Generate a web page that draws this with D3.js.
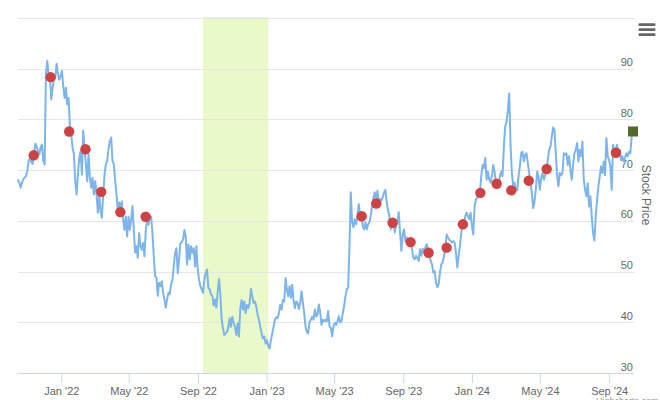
<!DOCTYPE html>
<html><head><meta charset="utf-8">
<script src="https://cdn.jsdelivr.net/npm/d3@7"></script>
<style>body{margin:0;background:#fff}svg{display:block;font-family:Arial,"Liberation Sans",sans-serif}</style>
</head><body><svg id="c" width="660" height="400"></svg>
<script>
// ---- data ----
const priceStart = "2021-10-16T00:00:00";
const priceStepHours = 56.8;
const priceValues = [
68.0,67.5,66.5,67.5,68.2,68.5,68.8,69.8,71.8,72.4,
71.6,71.2,73.1,75.2,74.5,73.7,73.1,74.4,75.0,71.8,
71.1,89.0,91.5,88.8,88.4,83.9,86.2,87.8,88.2,90.9,
89.0,87.8,88.5,89.5,86.5,84.2,86.2,82.9,84.2,78.5,
77.0,74.4,73.1,67.8,65.2,69.1,72.4,73.7,69.1,77.8,
74.3,71.1,67.8,73.1,68.5,66.5,68.5,65.2,67.8,65.2,
61.6,65.2,61.9,60.6,65.2,69.1,71.1,71.8,74.1,75.7,
76.4,71.8,71.1,67.8,65.2,61.9,63.6,
62.5,63.8,60.2,58.2,60.8,56.9,60.8,58.2,60.2,62.9,
58.2,53.7,55.0,52.7,57.6,55.0,54.3,55.6,53.0,58.2,
60.2,59.2,60.8,60.8,57.6,53.0,49.1,48.8,45.2,47.8,
47.1,48.1,45.8,44.5,42.9,44.5,45.8,45.5,47.5,48.4,
51.0,53.7,54.6,49.7,52.4,55.6,55.8,56.3,58.2,56.9,
51.4,55.3,52.4,55.0,53.7,54.6,51.0,55.0,50.4,48.4,
47.1,46.5,45.8,48.4,49.7,50.4,46.8,46.5,45.5,45.2,
43.3,44.5,42.9,
46.0,48.5,45.5,40.5,38.8,37.5,37.8,38.1,39.1,40.8,
39.1,41.1,39.8,39.1,37.5,39.8,37.2,42.8,44.4,42.5,
44.1,41.8,43.4,42.8,43.8,46.6,45.1,43.8,44.1,43.1,
41.5,40.5,39.1,37.8,36.8,37.2,35.8,36.5,35.3,34.8,
36.5,37.8,39.1,40.5,41.0,40.8,41.8,43.4,42.5,44.4,
44.1,48.7,46.4,45.1,47.1,44.8,47.4,44.4,42.8,44.1,
43.8,42.6,43.8,46.1,43.8,41.8,39.1,38.1,37.8,40.1,
40.5,41.1,40.5,42.5,41.1,
41.5,43.5,42.0,39.5,40.5,40.2,40.5,40.2,42.2,39.2,
38.9,37.2,39.2,39.9,39.5,40.2,41.2,40.0,40.2,41.8,
43.2,45.1,46.5,46.8,55.0,65.6,59.7,58.7,60.3,59.3,
61.0,63.3,61.0,61.0,59.0,58.3,59.7,58.3,59.3,59.7,
61.0,63.0,64.6,65.6,64.0,65.9,63.6,64.3,64.0,64.6,
65.6,66.1,63.6,62.0,61.0,58.3,60.0,60.0,57.7,59.0,
59.7,61.7,57.7,54.1,57.4,58.3,56.0,56.7,55.7,55.8,
55.4,54.4,52.7,52.4,53.1,
52.6,52.1,54.4,53.1,54.5,53.7,54.7,55.4,54.4,53.4,
52.1,51.4,49.8,50.1,47.8,46.9,47.5,49.8,51.4,51.8,
53.1,54.4,57.3,56.7,56.3,56.0,55.7,56.0,55.7,53.7,
50.8,53.1,55.0,57.6,59.3,59.6,60.9,61.6,60.9,60.3,
61.6,59.0,57.3,62.9,64.2,64.5,65.5,65.5,68.8,71.0,
70.4,72.4,68.1,69.7,68.1,67.5,68.8,71.0,69.7,67.5,
67.8,66.8,68.8,69.7,68.8,74.6,78.6,79.5,81.8,85.1,
75.0,69.4,66.8,67.5,66.1,
66.0,68.7,70.7,73.3,73.6,71.7,73.0,73.3,71.3,69.4,
67.4,65.4,62.5,63.7,66.1,69.7,68.7,66.1,68.4,69.4,
68.1,69.0,70.0,72.0,74.0,74.6,76.6,78.4,77.9,73.3,
69.0,66.8,69.4,69.0,69.4,73.3,73.0,73.3,71.0,72.7,
70.0,68.1,71.0,73.3,74.0,75.3,71.7,74.0,72.7,75.6,
68.1,66.1,64.8,67.4,62.8,64.8,60.9,57.6,56.1,60.9,
64.1,66.8,68.7,70.7,69.4,71.7,69.0,76.3,72.7,72.0,
70.7,66.1,75.0,73.6,74.0,75.0,72.7,74.0,72.0,72.7,
71.7,72.4,73.3,72.7,73.6,73.3,76.6,77.6
];
const eventDates = ["2021-11-13","2021-12-13","2022-01-15","2022-02-13","2022-03-13","2022-04-16","2022-05-31",
  "2023-06-19","2023-07-15","2023-08-13","2023-09-14","2023-10-16","2023-11-17","2023-12-16",
  "2024-01-16","2024-02-14","2024-03-11","2024-04-11","2024-05-13","2024-09-13"];
const eventValues = [72.9,88.3,77.6,74.1,65.7,61.7,60.8,
  60.9,63.4,59.6,55.8,53.7,54.7,59.3,
  65.5,67.3,66.0,67.9,70.2,73.4];
const bandRange = ["2022-09-10","2023-01-04"];
const gridValues = [30,40,50,60,70,80,90,100];
const labelValues = [30,40,50,60,70,80,90];
const yAxisTitle = "Stock Price";
const creditText = "Highcharts.com";

// ---- build ----
const parse = s => new Date(s + (s.length === 10 ? "T00:00:00" : ""));
const t0 = parse(priceStart).getTime();
const series = priceValues.map((v, i) => ({date: new Date(t0 + i * priceStepHours * 3600e3), value: v}));
const events = eventDates.map((d, i) => ({date: parse(d), value: eventValues[i]}));

const L = 18, R = 633, T = 17.8, B = 373;
const svg = d3.select("#c");
const x = d3.scaleTime().domain(d3.extent(series, d => d.date)).range([L, R]);
const y = d3.scaleLinear().domain([30, 100]).range([B, T]);

// plot band
svg.append("rect")
  .attr("x", x(parse(bandRange[0]))).attr("y", 17)
  .attr("width", x(parse(bandRange[1])) - x(parse(bandRange[0])))
  .attr("height", B - 17).attr("fill", "#e9f9c9");

// grid
svg.append("g").selectAll("line").data(gridValues).join("line")
  .attr("x1", L).attr("x2", R + 1)
  .attr("y1", d => Math.round(y(d)) + 0.5).attr("y2", d => Math.round(y(d)) + 0.5)
  .attr("stroke", "#e6e6e6").attr("stroke-width", 1);

// y labels (right, inside)
svg.append("g").selectAll("text").data(labelValues).join("text")
  .attr("x", R).attr("y", d => y(d) - 2.5)
  .attr("text-anchor", "end").attr("font-size", 11).attr("fill", "#666")
  .text(d => d);

// x axis
const xAxis = d3.axisBottom(x).ticks(d3.timeMonth.every(4)).tickFormat(d3.timeFormat("%b '%y")).tickSize(10).tickPadding(4);
const gx = svg.append("g").attr("transform", `translate(0,${B})`).call(xAxis);
gx.select(".domain").attr("stroke", "#ccd6eb").attr("d", `M${L},0.5H${R + 1}`);
gx.selectAll(".tick line").attr("stroke", "#ccd6eb");
gx.selectAll(".tick text").attr("fill", "#666").attr("font-size", 11).attr("font-family", "Arial, 'Liberation Sans', sans-serif");

// line
svg.append("path").datum(series)
  .attr("fill", "none").attr("stroke", "#7cb5ec").attr("stroke-width", 2)
  .attr("stroke-linejoin", "round").attr("stroke-linecap", "round")
  .attr("d", d3.line().x(d => x(d.date)).y(d => y(d.value)));

// event dots
svg.append("g").selectAll("circle").data(events).join("circle")
  .attr("cx", d => x(d.date)).attr("cy", d => y(d.value)).attr("r", 5.2)
  .attr("fill", "#d04141");

// last price marker
const last = series[series.length - 1];
svg.append("rect")
  .attr("x", x(last.date) - 5).attr("y", y(last.value) - 5)
  .attr("width", 10).attr("height", 10).attr("fill", "#536a2b");

// axis title
svg.append("text")
  .attr("transform", "translate(646,195) rotate(90)")
  .attr("text-anchor", "middle").attr("dy", "0.35em")
  .attr("font-size", 12).attr("fill", "#666").text(yAxisTitle);

// menu icon
svg.append("g").selectAll("rect").data([0, 1, 2]).join("rect")
  .attr("x", 638.5).attr("y", d => 23.3 + d * 5).attr("width", 17).attr("height", 2.8)
  .attr("rx", 1).attr("fill", "#666");

// credits
svg.append("text").attr("x", 596).attr("y", 404)
  .attr("font-size", 9).attr("fill", "#999").text(creditText);
</script>
</body></html>
